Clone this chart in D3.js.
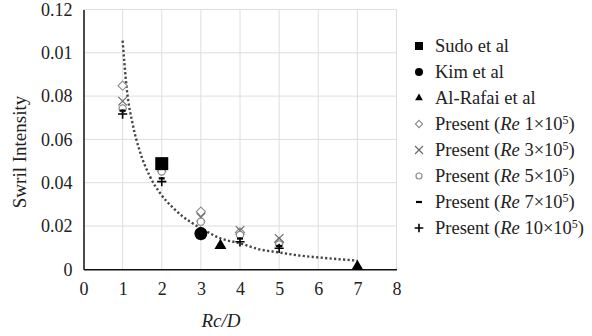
<!DOCTYPE html>
<html>
<head>
<meta charset="utf-8">
<script src="https://cdn.jsdelivr.net/npm/d3@7"></script>
</head>
<body style="margin:0">
<svg id="chart" width="592" height="336" font-family="Liberation Serif"></svg>
<script>
// ---- data ----
var xTicks = [0, 1, 2, 3, 4, 5, 6, 7, 8];
var yTicks = [0, 0.02, 0.04, 0.06, 0.08, 0.10, 0.12];
// the original axis prints 0.01 where 0.10 should be, keep it
var yTickLabels = ['0', '0.02', '0.04', '0.06', '0.08', '0.01', '0.12'];

var presentX = [1, 2, 3, 4, 5];
var re1 = [0.0848, 0.049, 0.0266, 0.017, 0.0125];
var re3 = [0.0777, 0.047, 0.024, 0.018, 0.0143];
var re5 = [0.0743, 0.0452, 0.022, 0.0158, 0.0115];
var re7 = [0.0733, 0.042, 0.017, 0.0142, 0.0108];
var re10 = [0.0717, 0.0405, 0.0155, 0.0127, 0.0097];

var sudo = [[2, 0.0488]];
var kim = [[3, 0.0165]];
var alRafai = [[3.5, 0.0105], [7, 0.0008]];

// dotted trend line
var trend = [[1, 0.1056], [1.1, 0.0843], [1.27, 0.066], [1.44, 0.0545], [1.7, 0.0428],
  [1.96, 0.0351], [2.3, 0.0282], [2.72, 0.022], [3, 0.019], [3.5, 0.0143], [4, 0.012],
  [4.5, 0.0092], [5, 0.0078], [5.5, 0.0064], [6, 0.0055], [6.5, 0.0047], [7, 0.004]];

var legendLabels = ['Sudo et al', 'Kim et al', 'Al-Rafai et al',
  ['1'], ['3'], ['5'], ['7'], ['10']];

var serif = 'Liberation Serif';

// ---- layout ----
var svg = d3.select('#chart');
var margin = { left: 83.5, right: 396.5, top: 9.5, bottom: 269.3 };

var x = d3.scaleLinear().domain([0, 8]).range([margin.left, margin.right]);
var y = d3.scaleLinear().domain([0, 0.12]).range([margin.bottom, margin.top]);

var grid = svg.append('g').attr('class', 'grid');
grid.selectAll('.gx').data(xTicks.slice(1)).enter().append('line')
  .attr('x1', function(d) { return x(d); }).attr('x2', function(d) { return x(d); })
  .attr('y1', y(0)).attr('y2', y(0.12))
  .attr('stroke', '#dedede').attr('stroke-width', 1);
grid.selectAll('.gy').data(yTicks.slice(1)).enter().append('line')
  .attr('x1', x(0)).attr('x2', x(8))
  .attr('y1', function(d) { return y(d); }).attr('y2', function(d) { return y(d); })
  .attr('stroke', '#dedede').attr('stroke-width', 1);

// axes
var xAxis = d3.axisBottom(x).tickValues(xTicks).tickSize(0).tickPadding(13);
var yAxis = d3.axisLeft(y).tickValues(yTicks).tickSize(0).tickPadding(11)
  .tickFormat(function(d, i) { return yTickLabels[i]; });

var gx = svg.append('g').attr('transform', 'translate(0,' + y(0) + ')').call(xAxis);
var gy = svg.append('g').attr('transform', 'translate(' + x(0) + ',0)').call(yAxis);
[gx, gy].forEach(function(g) {
  g.attr('font-family', serif).attr('font-size', 18);
  g.select('.domain').attr('stroke', '#111').attr('stroke-width', 1.5);
  g.selectAll('text').attr('fill', '#222')
    .attr('font-family', serif).attr('font-size', 18);
});

// axis titles
svg.append('text')
  .attr('x', 221).attr('y', 327)
  .attr('text-anchor', 'middle').attr('fill', '#222')
  .attr('font-family', serif).attr('font-size', 19).attr('font-style', 'italic')
  .text('Rc/D');
svg.append('text')
  .attr('transform', 'translate(26,152) rotate(-90)')
  .attr('text-anchor', 'middle').attr('fill', '#222')
  .attr('font-family', serif).attr('font-size', 19)
  .text('Swril Intensity');

// trend line
var line = d3.line()
  .x(function(d) { return x(d[0]); })
  .y(function(d) { return y(d[1]); })
  .curve(d3.curveMonotoneX);
svg.append('path')
  .datum(trend)
  .attr('d', line)
  .attr('fill', 'none')
  .attr('stroke', '#444')
  .attr('stroke-width', 2.4)
  .attr('stroke-dasharray', '2.2 2.3');

// marker drawing helpers
var gray = '#8a8a8a';
function drawMarker(g, kind, cx, cy, big) {
  if (kind === 'square') {
    var w = big ? 13 : 8;
    g.append('rect').attr('x', cx - w / 2).attr('y', cy - w / 2)
      .attr('width', w).attr('height', w).attr('fill', '#000');
  } else if (kind === 'circle') {
    g.append('circle').attr('cx', cx).attr('cy', cy)
      .attr('r', big ? 6.5 : 4).attr('fill', '#000');
  } else if (kind === 'triangle') {
    g.append('path')
      .attr('d', d3.symbol().type(d3.symbolTriangle).size(big ? 62 : 26)())
      .attr('transform', 'translate(' + cx + ',' + (cy - (big ? 1 : 0)) + ')')
      .attr('fill', '#000');
  } else if (kind === 'diamond') {
    var r = big ? 4.6 : 3.6;
    g.append('path')
      .attr('d', 'M' + cx + ',' + (cy - r) + 'L' + (cx + r) + ',' + cy + 'L' + cx + ',' + (cy + r) + 'L' + (cx - r) + ',' + cy + 'Z')
      .attr('fill', '#fff').attr('stroke', gray).attr('stroke-width', 1.1);
  } else if (kind === 'cross') {
    var c = big ? 4.3 : 4;
    g.append('path')
      .attr('d', 'M' + (cx - c) + ',' + (cy - c) + 'L' + (cx + c) + ',' + (cy + c) + 'M' + (cx - c) + ',' + (cy + c) + 'L' + (cx + c) + ',' + (cy - c))
      .attr('fill', 'none').attr('stroke', '#666').attr('stroke-width', 1.1);
  } else if (kind === 'ring') {
    g.append('circle').attr('cx', cx).attr('cy', cy).attr('r', big ? 3.6 : 3)
      .attr('fill', '#fff').attr('stroke', gray).attr('stroke-width', 1.2);
  } else if (kind === 'dash') {
    g.append('line').attr('x1', cx - 3).attr('x2', cx + 3).attr('y1', cy).attr('y2', cy)
      .attr('stroke', '#000').attr('stroke-width', 2.2);
  } else if (kind === 'plus') {
    var p = big ? 4.6 : 4.3;
    g.append('path')
      .attr('d', 'M' + (cx - p) + ',' + cy + 'L' + (cx + p) + ',' + cy + 'M' + cx + ',' + (cy - p) + 'L' + cx + ',' + (cy + p))
      .attr('fill', 'none').attr('stroke', '#000').attr('stroke-width', 1.6);
  }
}

// present series, then the reference data on top
var presentSeries = [
  { kind: 'diamond', values: re1 },
  { kind: 'cross', values: re3 },
  { kind: 'ring', values: re5 },
  { kind: 'dash', values: re7 },
  { kind: 'plus', values: re10 }
];
var gPoints = svg.append('g').attr('class', 'points');
presentSeries.forEach(function(s) {
  s.values.forEach(function(v, i) {
    drawMarker(gPoints, s.kind, x(presentX[i]), y(v), true);
  });
});
sudo.forEach(function(d) { drawMarker(gPoints, 'square', x(d[0]), y(d[1]), true); });
kim.forEach(function(d) { drawMarker(gPoints, 'circle', x(d[0]), y(d[1]), true); });
alRafai.forEach(function(d) { drawMarker(gPoints, 'triangle', x(d[0]), y(d[1]), true); });

// legend
var legendKinds = ['square', 'circle', 'triangle', 'diamond', 'cross', 'ring', 'dash', 'plus'];
var gLegend = svg.append('g').attr('class', 'legend');
legendKinds.forEach(function(k, i) {
  var ly = 46 + i * 26;
  drawMarker(gLegend, k, 419, ly, false);
  var t = gLegend.append('text').attr('x', 435).attr('y', ly + 6).attr('fill', '#222')
    .attr('font-family', serif).attr('font-size', 18.5);
  var lab = legendLabels[i];
  if (typeof lab === 'string') {
    t.text(lab);
  } else {
    t.append('tspan').text('Present (');
    t.append('tspan').attr('font-style', 'italic').text('Re');
    t.append('tspan').text(' ' + lab[0] + '\u00d710');
    t.append('tspan').attr('font-size', 12).attr('dy', -6).text('5');
    t.append('tspan').attr('dy', 6).text(')');
  }
});
</script>
</body>
</html>
